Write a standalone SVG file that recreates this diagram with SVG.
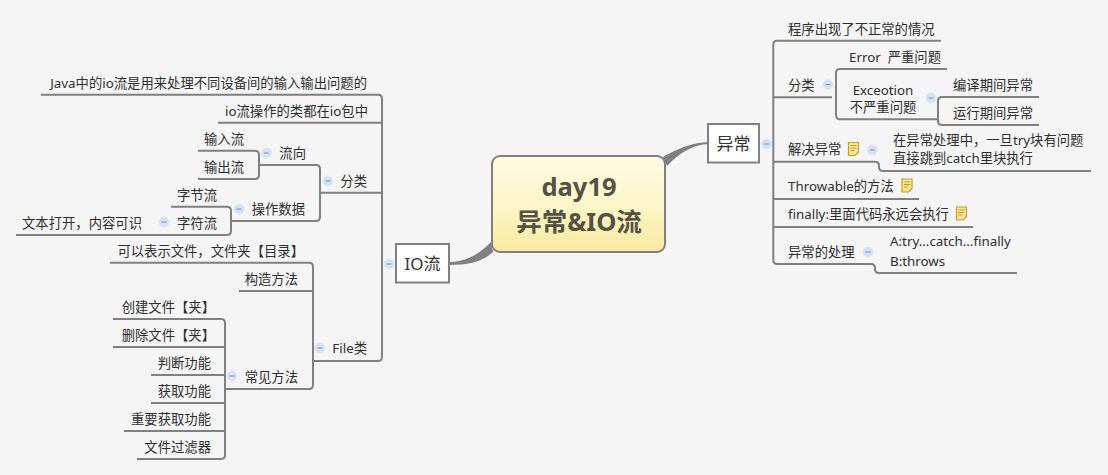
<svg xmlns="http://www.w3.org/2000/svg" width="1108" height="475" viewBox="0 0 1108 475">
<defs>
<linearGradient id="g" x1="0" y1="0" x2="0" y2="1"><stop offset="0" stop-color="#fefbe3"/><stop offset="0.55" stop-color="#fcf5c6"/><stop offset="1" stop-color="#f8ea9e"/></linearGradient>
<g id="c"><circle r="5" fill="#d3e1f3" stroke="#e0e9f5" stroke-width="1"/><path d="M-2.500 0H2.500" stroke="#7f93ad" stroke-width="1"/></g>
<g id="n"><path d="M-5 -6.500H5V3L1.500 6.500H-5Z" fill="#fbe58e" stroke="#c4a033" stroke-width="1.200"/><path d="M-3 -3.500H3M-3 -1H3M-3 1.500H1" stroke="#a98a2a" stroke-width="0.800" fill="none"/></g>
</defs>
<style>
text{font-family:"Noto Sans","Noto Sans CJK SC",sans-serif;font-size:13.33px;fill:#2e2e2e;transform:translate(0,-0.5px)}
.e{text-anchor:end}
.m{text-anchor:middle}
.b{fill:#fff;stroke:#808080;stroke-width:2}
.t{font-size:17px;text-anchor:middle;fill:#333}
#connectors path{fill:none;stroke:#808080;stroke-width:2}
#connectors path.w{fill:#808080;stroke:none}
</style>
<rect width="1108" height="475" fill="#f5f5f6"/>
<g id="connectors">
<path class="w" d="M663 157C684 145 695 143 708 142V144C695 145 682 150 667 166Z"/>
<path class="w" d="M491 242L493 252C482 262 468 265 449 265V262C463 262 478 256 491 242Z"/>
<path d="M41 94.700H378Q382 94.700 382 98.700V357Q382 361 378 361H313"/>
<path d="M218 122.700H382"/>
<path d="M320 192.700H382"/>
<path d="M259 165H316Q320 165 320 169V217Q320 221 316 221H232"/>
<path d="M198 150.700H255Q259 150.700 259 154.700V175Q259 179 255 179H198"/>
<path d="M171 206.700H227Q231 206.700 231 210.700V231Q231 235 227 235H16"/>
<path d="M110 262.700H309Q313 262.700 313 266.700V385Q313 389 309 389H226"/>
<path d="M239 291H313"/>
<path d="M113 319H221Q225 319 225 323V455Q225 459 221 459H137"/>
<path d="M113 347H225M151 375H225M151 403H225M124 431H225"/>
<path d="M941 40.700H777Q773.300 40.700 773.300 44.700V260Q773.300 264 777.300 264H871Q875 264 875 268V269Q875 273 879 273H1017"/>
<path d="M773 97.300H832"/>
<path d="M947 69H840Q836 69 836 73V115Q836 119.300 840 119.300H938"/>
<path d="M1039 97H942Q938 97 938 101V121Q938 125 942 125H1039"/>
<path d="M773 161.700H875Q879 161.700 879 165.700V167Q879 171 883 171H1091"/>
<path d="M773 199H919M773 227H973"/>
</g>
<g id="root"><rect x="492" y="156" width="173" height="96" rx="8" fill="url(#g)" stroke="#808080" stroke-width="2"/>
<text x="579" y="196" class="m" style="font-size:25.500px;font-weight:700;fill:#555245">day19</text>
<text x="579" y="231" class="m" style="font-size:25.500px;font-weight:700;fill:#555245">异常&amp;IO流</text></g>
<g id="node-io"><rect x="396" y="244" width="53" height="38.500" class="b"/><text x="422.500" y="270" class="t">IO流</text><use href="#c" x="389" y="264"/></g>
<g id="node-ex"><rect x="708" y="124" width="51" height="38.500" class="b"/><text x="733.500" y="150" class="t">异常</text><use href="#c" x="766.500" y="144"/></g>
<g id="left-nodes">
<g id="l1"><text x="367" y="88" class="e">Java中的io流是用来处理不同设备间的输入输出问题的</text></g>
<g id="l2"><text x="368" y="116" class="e">io流操作的类都在io包中</text></g>
<g id="l3"><text x="367" y="186" class="e">分类</text><use href="#c" x="328" y="181"/></g>
<g id="l4"><text x="306" y="158" class="e">流向</text><use href="#c" x="266.500" y="153"/></g>
<g id="l5"><text x="244" y="144" class="e">输入流</text></g>
<g id="l6"><text x="244" y="172" class="e">输出流</text></g>
<g id="l7"><text x="305" y="214" class="e">操作数据</text><use href="#c" x="239" y="209"/></g>
<g id="l8"><text x="217" y="200" class="e">字节流</text></g>
<g id="l9"><text x="217" y="228" class="e">字符流</text><use href="#c" x="164" y="222"/></g>
<g id="l10"><text x="142" y="228" class="e">文本打开，内容可识</text></g>
<g id="l11"><text x="304" y="256" class="e">可以表示文件，文件夹【目录】</text></g>
<g id="l12"><text x="298" y="284" class="e">构造方法</text></g>
<g id="l13"><text x="367" y="353" class="e">File类</text><use href="#c" x="320" y="348"/></g>
<g id="l14"><text x="298" y="382" class="e">常见方法</text><use href="#c" x="232" y="376"/></g>
<g id="l15"><text x="215" y="312" class="e">创建文件【夹】</text></g>
<g id="l16"><text x="215" y="340" class="e">删除文件【夹】</text></g>
<g id="l17"><text x="211" y="368" class="e">判断功能</text></g>
<g id="l18"><text x="211" y="396" class="e">获取功能</text></g>
<g id="l19"><text x="211" y="424" class="e">重要获取功能</text></g>
<g id="l20"><text x="211" y="452" class="e">文件过滤器</text></g>
</g>
<g id="right-nodes">
<g id="r1"><text x="788" y="34">程序出现了不正常的情况</text></g>
<g id="r2"><text x="788" y="90">分类</text><use href="#c" x="828" y="84.500"/></g>
<g id="r3"><text x="849" y="62">Error&#160;&#160;严重问题</text></g>
<g id="r4"><text x="883" y="95" class="m">Exceotion</text><text x="883" y="112" class="m">不严重问题</text><use href="#c" x="931" y="98"/></g>
<g id="r5"><text x="953" y="90">编译期间异常</text></g>
<g id="r6"><text x="953" y="118">运行期间异常</text></g>
<g id="r7"><text x="788" y="154">解决异常</text><use href="#n" x="853.500" y="149"/><use href="#c" x="872.500" y="150"/></g>
<g id="r8"><text x="893" y="145">在异常处理中，一旦try块有问题</text><text x="893" y="163">直接跳到catch里块执行</text></g>
<g id="r9"><text x="788" y="191">Throwable的方法</text><use href="#n" x="907" y="185.500"/></g>
<g id="r10"><text x="788" y="219">finally:里面代码永远会执行</text><use href="#n" x="961.500" y="213.500"/></g>
<g id="r11"><text x="788" y="257">异常的处理</text><use href="#c" x="868" y="252"/></g>
<g id="r12"><text x="890" y="246">A:try...catch...finally</text><text x="890" y="266">B:throws</text></g>
</g>
</svg>
